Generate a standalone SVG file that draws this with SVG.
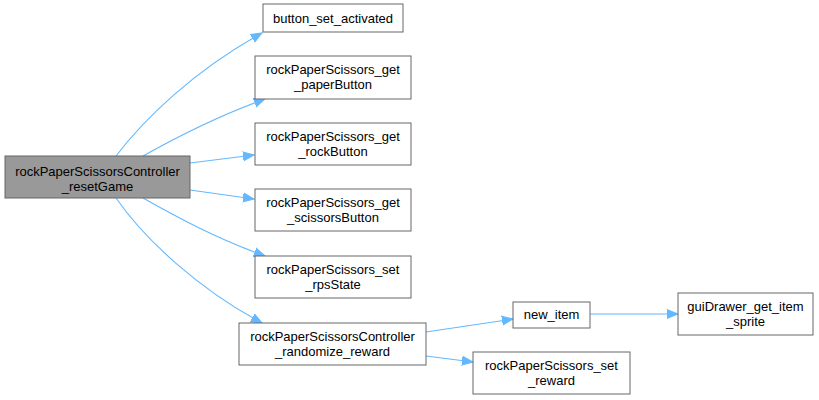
<svg xmlns="http://www.w3.org/2000/svg" width="819" height="400" viewBox="0 0 819 400">
<style>
.n rect{fill:#fff;stroke:#666;stroke-width:1}
.n.main rect{fill:#999}
.n text{font-family:"Liberation Sans",Arial,sans-serif;font-size:13px;fill:#000;text-anchor:middle}
.e path{fill:none;stroke:#63b8ff;stroke-width:1.1}
</style>
<defs>
<marker id="ah" markerUnits="userSpaceOnUse" markerWidth="14" markerHeight="12" refX="11" refY="5.5" orient="auto">
<path d="M0,1 L11,5.5 L0,10 Z" fill="#63b8ff" stroke="#63b8ff"/>
</marker>
</defs>
<rect width="819" height="400" fill="#fff"/>
<g id="edges" class="e">
<path d="M116,156 C145,118 195,70 262,33" marker-end="url(#ah)"/>
<path d="M143,156 C175,138 215,117 265,99" marker-end="url(#ah)"/>
<path d="M190,163 L254,155" marker-end="url(#ah)"/>
<path d="M190,190 L254,199" marker-end="url(#ah)"/>
<path d="M143,198 C175,216 215,238 265,256" marker-end="url(#ah)"/>
<path d="M116,198 C145,240 200,290 262,323" marker-end="url(#ah)"/>
<path d="M426,332 L513,319" marker-end="url(#ah)"/>
<path d="M426,356 L473,362" marker-end="url(#ah)"/>
<path d="M590,314 L678,314" marker-end="url(#ah)"/>
</g>
<g id="node_main" class="n main">
<rect x="5" y="156" width="185" height="42"/>
<text x="97.5" y="176">rockPaperScissorsController</text>
<text x="97.5" y="190.5">_resetGame</text>
</g>
<g id="node_button_set_activated" class="n">
<rect x="263" y="4" width="140" height="28"/>
<text x="333" y="22.5">button_set_activated</text>
</g>
<g id="node_paperButton" class="n">
<rect x="255" y="56" width="156" height="43"/>
<text x="333" y="74">rockPaperScissors_get</text>
<text x="333" y="89">_paperButton</text>
</g>
<g id="node_rockButton" class="n">
<rect x="255" y="123" width="156" height="42"/>
<text x="333" y="141">rockPaperScissors_get</text>
<text x="333" y="156">_rockButton</text>
</g>
<g id="node_scissorsButton" class="n">
<rect x="255" y="189" width="156" height="42"/>
<text x="333" y="207">rockPaperScissors_get</text>
<text x="333" y="222">_scissorsButton</text>
</g>
<g id="node_rpsState" class="n">
<rect x="255" y="256" width="156" height="42"/>
<text x="333" y="274">rockPaperScissors_set</text>
<text x="333" y="289">_rpsState</text>
</g>
<g id="node_randomize_reward" class="n">
<rect x="239" y="323" width="187" height="42"/>
<text x="332.5" y="341">rockPaperScissorsController</text>
<text x="332.5" y="356">_randomize_reward</text>
</g>
<g id="node_new_item" class="n">
<rect x="513" y="302" width="77" height="26"/>
<text x="551.5" y="319">new_item</text>
</g>
<g id="node_set_reward" class="n">
<rect x="473" y="352" width="157" height="42"/>
<text x="551.5" y="370">rockPaperScissors_set</text>
<text x="551.5" y="385">_reward</text>
</g>
<g id="node_guiDrawer" class="n">
<rect x="678" y="293" width="135" height="42"/>
<text x="745.5" y="311">guiDrawer_get_item</text>
<text x="745.5" y="326">_sprite</text>
</g>
</svg>
